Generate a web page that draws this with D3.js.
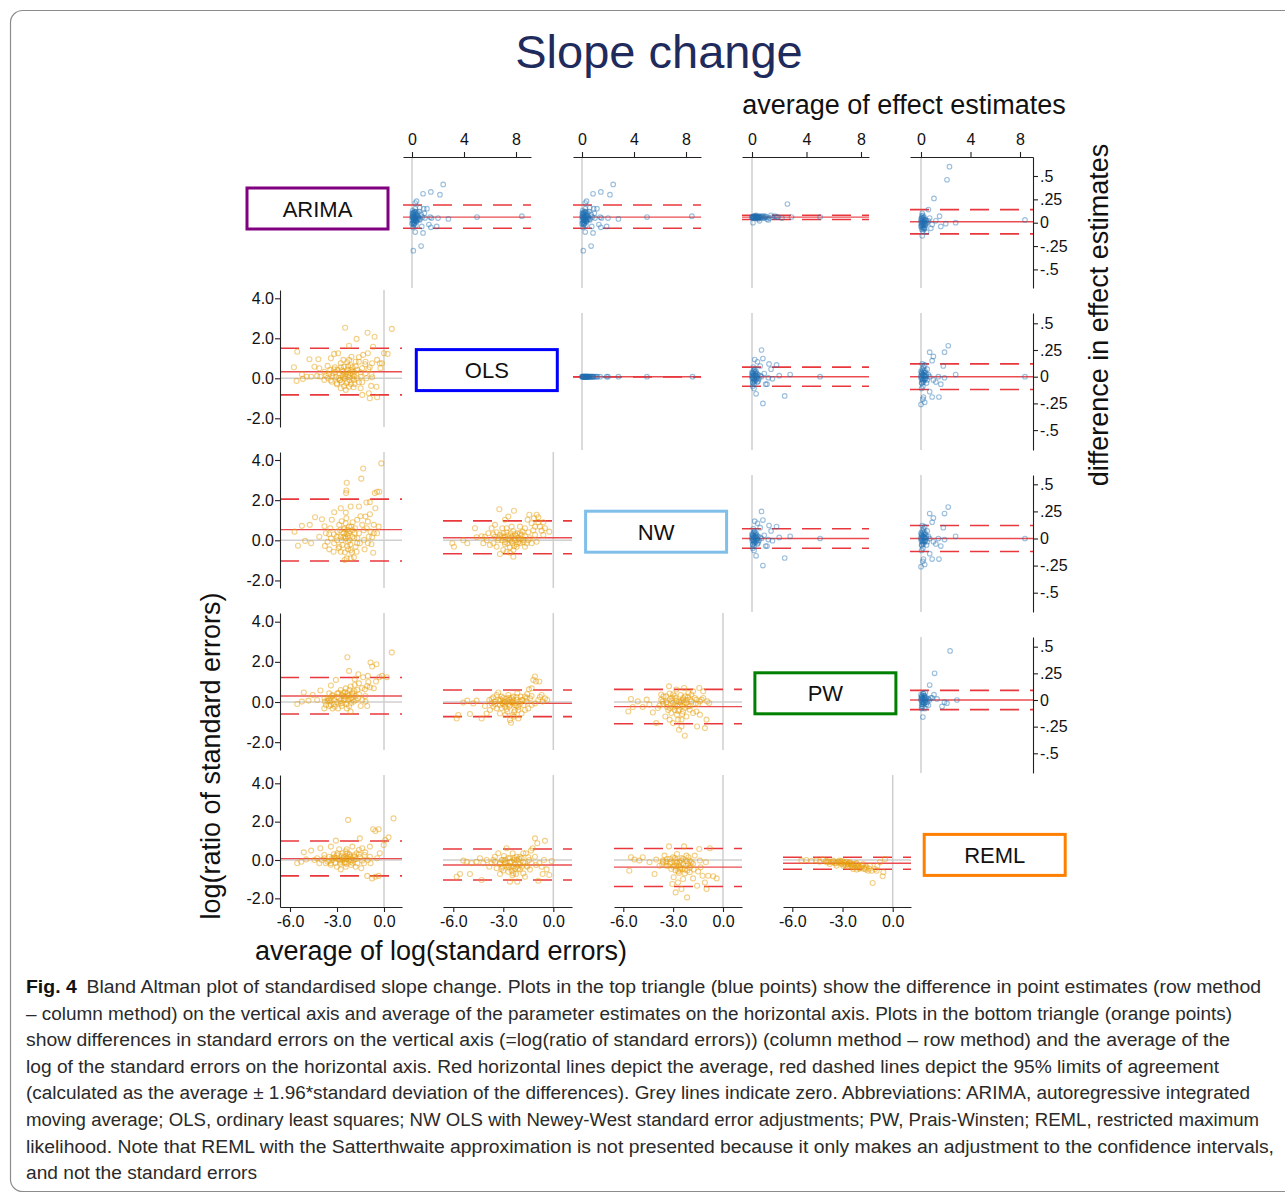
<!DOCTYPE html>
<html>
<head>
<meta charset="utf-8">
<script src="https://cdn.jsdelivr.net/npm/d3@7"></script>
<style>
  body { margin: 0; background: #fff; }
  svg text { font-family: "Liberation Sans", Arial, Helvetica, sans-serif; }
</style>
</head>
<body>
<svg id="chart" width="1285" height="1194"></svg>
<script>
// methods down the diagonal
const methods = ["ARIMA", "OLS", "NW", "PW", "REML"];
const methodColours = ["#800080", "#0000ff", "#80bfea", "#008000", "#ff8000"];

// tick values / labels
const effectTicks = [0, 4, 8];
const diffTicks = [0.5, 0.25, 0, -0.25, -0.5];
const diffTickLabels = [".5", ".25", "0", "-.25", "-.5"];
const logSeTicks = [-6, -3, 0];
const logRatioTicks = [4, 2, 0, -2];

// ---- upper triangle: [average of effect estimates, difference in effect estimates]
const ptsArimaOls = [
  [0.05,0.08],[0.1,0.05],[0.15,0.02],[0.2,0.06],[0.1,0.1],[0.25,0.03],[0.3,0.07],[0.05,0.0],[0.15,-0.02],[0.35,0.04],
  [0.4,0.08],[0.2,0.12],[0.5,0.06],[0.6,0.03],[0.1,0.04],[0.2,0.0],[0.3,-0.03],[0.45,0.1],[0.05,0.13],[0.25,0.15],
  [0.7,0.09],[0.55,0.12],[0.15,0.07],[0.35,0.01],[0.0,0.06],[0.08,-0.05],[0.6,0.16],[0.8,0.06],[0.95,0.1],[1.0,0.05],
  [0.02,0.03],[0.08,0.09],[0.12,0.01],[0.18,0.04],[0.22,0.09],[0.28,0.05],[0.32,0.02],[0.38,0.06],[0.42,0.03],[0.12,0.11],
  [0.18,-0.01],[0.02,0.1],[0.26,0.11],[0.48,0.04],[0.06,0.06],[0.14,0.05],[0.22,0.02],[0.34,0.09],[0.1,-0.02],[0.3,0.12],
  [2.4,0.41],[1.45,0.33],[0.85,0.31],[2.15,0.3],[0.25,0.21],[0.35,0.23],[1.15,0.15],[0.9,0.15],[8.45,0.07],[5.0,0.06],
  [2.8,0.04],[2.0,0.05],[1.4,0.06],[1.5,0.05],[0.6,0.04],[1.3,-0.02],[1.9,-0.04],[0.75,-0.04],[1.45,-0.05],[0.0,-0.01],
  [0.25,-0.1],[0.85,-0.11],[0.7,-0.25],[0.1,-0.3]
];
const ptsArimaPw = [
  [0.0,0.06],[0.05,0.05],[0.1,0.07],[0.15,0.06],[0.2,0.05],[0.25,0.07],[0.3,0.06],[0.35,0.05],[0.4,0.06],[0.5,0.07],
  [0.6,0.05],[0.7,0.06],[0.8,0.07],[0.9,0.05],[1.0,0.06],[1.1,0.06],[1.3,0.05],[1.5,0.06],[1.7,0.07],[1.9,0.06],
  [2.2,0.05],[0.07,0.0],[0.55,0.02],[1.1,0.04],[1.8,0.06],[2.6,0.2],[2.9,0.06],[5.0,0.06],[1.4,0.08],[0.3,0.08],
  [0.45,0.04],[1.2,0.03],[0.02,0.06],[0.08,0.06],[0.12,0.05],[0.18,0.07],[0.22,0.06],[0.28,0.05],[0.32,0.07],[0.38,0.06],
  [0.42,0.05],[0.48,0.06],[0.55,0.06],[0.65,0.07],[0.75,0.05],[0.85,0.06],[0.95,0.07]
];
const ptsArimaReml = [
  [0.0,0.02],[0.05,-0.02],[0.1,0.0],[0.15,0.03],[0.2,-0.03],[0.05,0.05],[0.1,-0.05],[0.25,0.01],[0.3,-0.02],[0.15,0.08],
  [0.05,-0.07],[0.2,0.05],[0.35,0.03],[0.4,-0.01],[0.1,0.1],[0.5,0.0],[0.3,-0.06],[0.0,-0.04],[0.6,0.02],[0.15,-0.09],
  [0.25,0.06],[0.02,0.0],[0.08,0.02],[0.12,-0.02],[0.18,0.01],[0.22,-0.01],[0.28,0.03],[0.04,-0.03],[0.14,0.05],[0.24,-0.05],
  [0.32,0.0],[0.06,0.07],[0.16,-0.06],[0.36,-0.03],[0.44,0.02],[0.02,0.04],
  [2.3,0.6],[2.1,0.46],[1.05,0.26],[0.6,0.14],[8.4,0.03],[2.8,0.0],[1.5,0.07],[1.2,0.02],[0.9,-0.02],
  [1.6,-0.04],[2.0,-0.01],[0.45,-0.1],[0.1,-0.14],[0.25,-0.07],[0.8,-0.06],[0.7,0.05]
];
const ptsOlsNw = [
  [0.0,0],[0.05,0],[0.1,0],[0.15,0],[0.2,0],[0.25,0],[0.3,0],[0.35,0],[0.4,0],[0.45,0],[0.5,0],[0.55,0],[0.6,0],
  [0.65,0],[0.7,0],[0.8,0],[0.9,0],[1.0,0],[1.1,0],[1.4,0],[1.9,0],[2.0,0],[2.8,0],[5.0,0],[8.5,0],
  [0.02,0],[0.08,0],[0.12,0],[0.18,0],[0.22,0],[0.28,0],[0.32,0],[0.38,0],[0.42,0],[0.48,0],[0.75,0],[0.85,0],[1.2,0]
];
const ptsOlsPw = [
  [0.0,0.0],[0.05,0.03],[0.1,-0.02],[0.15,0.01],[0.2,-0.04],[0.05,-0.05],[0.1,0.05],[0.25,0.02],[0.3,-0.01],[0.0,0.04],
  [0.15,-0.07],[0.35,0.03],[0.4,0.0],[0.2,0.07],[0.5,-0.02],[0.6,0.01],[0.1,0.09],[0.05,-0.09],[0.3,0.05],[0.45,-0.04],
  [0.7,0.0],[0.02,0.01],[0.08,-0.01],[0.12,0.02],[0.18,-0.02],[0.22,0.01],[0.28,-0.03],[0.04,0.03],[0.14,-0.04],[0.24,0.04],
  [0.32,0.01],[0.06,-0.06],[0.16,0.06],[0.36,-0.02],[0.44,0.02],[0.02,-0.02],
  [0.7,0.25],[0.2,0.16],[0.8,0.17],[1.25,0.12],[1.8,0.11],[1.4,0.07],[2.8,0.02],[5.0,0.0],[2.0,0.01],
  [2.4,-0.18],[0.8,-0.25],[0.3,-0.16],[0.15,-0.11],[1.0,-0.07],[1.1,-0.07],[0.4,-0.05],[1.5,-0.02],[0.4,0.14],[0.6,0.1],
  [0.9,0.03],[1.2,-0.01]
];
const ptsOlsReml = [
  [0.0,0.0],[0.05,0.04],[0.1,-0.03],[0.15,0.02],[0.2,-0.05],[0.05,-0.06],[0.1,0.07],[0.25,0.01],[0.3,-0.02],[0.0,0.05],
  [0.15,-0.09],[0.35,0.04],[0.4,0.0],[0.2,0.09],[0.5,-0.03],[0.6,0.02],[0.1,0.12],[0.05,-0.11],[0.3,0.06],[0.45,-0.06],
  [0.7,0.0],[0.02,0.01],[0.08,-0.01],[0.12,0.02],[0.18,-0.02],[0.22,0.01],[0.28,-0.03],[0.04,0.03],[0.14,-0.04],[0.24,0.04],
  [0.32,0.01],[0.06,-0.06],[0.16,0.06],[0.36,-0.02],[0.44,0.02],[0.02,-0.02],
  [2.2,0.29],[1.9,0.23],[0.7,0.23],[1.0,0.19],[0.9,0.15],[0.3,0.11],[1.8,0.1],[2.8,0.02],[8.4,0.0],
  [1.4,0.0],[1.9,-0.01],[1.0,-0.03],[1.6,-0.07],[0.7,-0.14],[1.45,-0.19],[0.9,-0.19],[0.2,-0.19],[0.15,-0.21],[0.0,-0.26],
  [0.3,-0.24],[1.2,-0.05],[0.5,0.07]
];
const ptsPwReml = [
  [0.0,0.0],[0.05,0.03],[0.1,-0.02],[0.15,0.01],[0.2,-0.03],[0.05,-0.04],[0.1,0.04],[0.25,0.02],[0.3,-0.01],[0.0,0.05],
  [0.15,-0.06],[0.35,0.02],[0.4,0.0],[0.2,0.06],[0.5,-0.02],[0.6,0.01],[0.05,-0.08],[0.3,0.04],[0.45,-0.04],[0.7,0.0],
  [0.8,0.02],[0.02,0.01],[0.08,-0.01],[0.12,0.02],[0.18,-0.02],[0.22,0.01],[0.28,-0.03],[0.04,0.03],[0.14,-0.04],[0.24,0.04],
  [0.32,0.01],[0.06,-0.06],[0.16,0.06],[0.36,-0.02],[0.44,0.02],
  [2.35,0.46],[1.1,0.25],[0.7,0.14],[1.05,0.05],[1.3,0.01],[1.9,-0.02],[2.1,-0.03],[2.9,0.0],[1.7,-0.06],
  [0.15,-0.16],[0.3,-0.08],[0.35,0.07],[0.9,0.02],[0.6,-0.05]
];

// row method, column method; NW point estimates equal OLS ones
const upperPairs = [["ARIMA","OLS"],["ARIMA","NW"],["ARIMA","PW"],["ARIMA","REML"],["OLS","NW"],
                    ["OLS","PW"],["OLS","REML"],["NW","PW"],["NW","REML"],["PW","REML"]];
const upperPoints = [ptsArimaOls, ptsArimaOls, ptsArimaPw, ptsArimaReml, ptsOlsNw,
                     ptsOlsPw, ptsOlsReml, ptsOlsPw, ptsOlsReml, ptsPwReml];
const upperMean  = [0.06, 0.06, 0.06, 0.01, 0, 0, 0, 0, 0, 0];
const upperLower = [-0.06, -0.06, 0.035, -0.12, 0, -0.09, -0.12, -0.09, -0.12, -0.09];
const upperUpper = [0.19, 0.19, 0.08, 0.14, 0, 0.09, 0.12, 0.09, 0.12, 0.09];

// ---- lower triangle: [average of log(SE), log(ratio of SE)]
const ptsOlsArima = [
  [-2.48,2.53],[0.5,2.47],[-1.05,2.28],[-0.6,2.08],[-1.75,1.97],[-2.23,1.63],[-0.7,1.58],[-5.54,1.33],[0,1.25],[0.23,1.22],
  [-4.76,0.95],[-4.19,0.95],[-5.75,0.55],[-5.58,-0.13],[-5.18,-0.03],[-0.44,0.92],[-1.18,0.83],[-1.6,0.83],[-0.27,0.75],[-2.93,1.25],
  [-3.18,1.22],[-3.39,1.0],[-3.6,0.62],[-4.13,0.5],[-4.44,0.58],[-4.65,0.08],[-4.06,0.08],[-3.81,-0.08],[-3.33,-0.17],[-3.01,-0.25],
  [-2.76,-0.5],[-2.44,-0.58],[-2.23,-0.42],[-1.49,-0.5],[-1.39,-0.83],[-0.97,-0.75],[-0.91,-1.0],[-0.44,-0.95],[-0.48,-0.42],[-0.82,-0.38],
  [-1.39,-0.2],[-1.87,-0.28],[-2.13,0.25],[-2.34,0.42],[-2.55,0.58],[-2.76,0.75],[-1.81,0.83],[-1.71,0.42],[-2.02,0.55],[-2.29,0.17],
  [-2.51,0],[-2.65,0.17],[-2.86,0.25],[-3.07,0.05],[-3.28,0.25],[-3.43,0.42],[-3.14,0.55],[-2.97,0.42],[-2.59,0.92],[-2.23,0.92],
  [-2.08,1.08],[-1.6,1.05],[-1.33,1.17],[-1.03,1.25],[-0.76,0.75],[-0.91,0.55],[-1.18,0.25],[-1.12,0],[-1.49,0.08],[-0.76,0.05],
  [-0.23,0.5],[-0.13,0.75],[-4.93,0.08],[-5.24,0.2],[-3.81,0.33],[-2.02,0],[-1.92,-0.08],[-2.34,-0.17],[-2.82,-0.08],[-3.6,0.03],
  [-4.27,0.12],[-2.4,0.3],[-2.2,0.05],[-2.6,0.35],[-2.0,0.2],[-2.45,0.1],[-1.9,0.3],[-2.7,-0.2],[-2.1,-0.3],[-3.5,0.2],
  [-3.3,0.1],[-3.1,0.3],[-2.9,0.0],[-2.7,0.4],[-2.5,0.2],[-2.3,0.6],[-2.1,0.4],[-1.9,0.1],[-1.7,0.0],[-1.5,0.3],
  [-3.0,-0.3],[-2.8,-0.1],[-2.6,0.05],[-2.4,-0.25],[-2.2,-0.1],[-2.0,0.35],[-1.8,0.6],[-1.6,-0.2],[-3.4,-0.1],[-3.2,0.45],
  [-2.35,0.8],[-2.15,0.65],[-2.55,-0.4],[-1.95,-0.45],[-2.75,0.55],[-1.4,0.5],[-1.2,0.7],[-1.0,0.45],[-0.8,0.2],[-3.7,0.15]
];
const ptsNwArima = [
  [-0.17,3.83],[-1.33,3.58],[-1.45,3.07],[-2.38,2.87],[-2.4,2.48],[-2.42,2.35],[-0.44,2.42],[-0.3,2.42],[-0.59,2.35],[-0.91,1.9],
  [-1.12,1.88],[-0.55,1.6],[-1.6,1.68],[-2.13,1.68],[-2.76,1.6],[-2.44,1.38],[-3.18,1.4],[-3.33,1.02],[-3.96,1.05],[-4.4,1.15],
  [-4.74,0.77],[-5.24,0.72],[-5.71,0.43],[-5.49,-0.27],[-5.03,-0.03],[-4.65,-0.15],[-4.13,0.18],[-3.71,0.35],[-3.43,0.6],[-3.01,0.18],
  [-2.86,0.77],[-2.55,0.55],[-2.23,0.35],[-2.08,0.68],[-1.87,0.35],[-1.71,1.02],[-1.39,0.77],[-1.18,1.18],[-1.03,0.93],[-0.86,0.43],
  [-0.65,0.35],[-1.03,-0.15],[-1.24,-0.45],[-1.54,-0.15],[-1.81,-0.32],[-2.13,-0.48],[-2.38,-0.9],[-2.51,-0.98],[-2.13,-0.9],[-1.92,-0.85],
  [-1.75,-0.57],[-0.69,-0.62],[-3.49,-0.45],[-3.77,-0.28],[-3.18,-0.15],[-2.86,-0.32],[-2.65,-0.23],[-3.39,0.1],[-3.6,-0.07],[-2.44,0.1],
  [-2.29,-0.07],[-2.76,0.18],[-2.02,0.18],[-2.38,0.32],[-2.59,0.35],[-2.34,0.52],[-2.23,0.68],[-2.97,0.43],[-1.6,0.35],[-1.28,0.02],
  [-0.97,0.18],[-0.76,0.15],[-0.44,0.35],[-0.34,0.68],[-0.65,0.77],[-1.71,-0.15],[-2.76,-0.57],[-3.22,-0.57],[-2.5,0.2],[-2.2,0.0],
  [-2.0,0.5],[-1.9,0.1],[-2.7,0.0],[-2.35,-0.3],
  [-3.2,0.3],[-3.0,0.0],[-2.8,0.5],[-2.6,0.15],[-2.45,0.85],[-2.3,0.2],[-2.15,-0.2],[-2.0,0.9],[-1.85,0.6],[-1.7,0.1],
  [-1.5,1.2],[-1.3,0.5],[-2.9,-0.4],[-2.5,-0.6],[-2.2,0.45],[-2.05,-0.6],[-2.7,0.95],[-3.5,0.3],[-3.8,0.7],[-1.1,0.6],
  [-0.9,1.3],[-0.8,-0.2],[-2.4,1.1],[-2.55,0.6],[-2.3,-0.45]
];
const ptsNwOls = [
  [-6.06,-0.15],[-5.96,-0.32],[-5.4,0],[-5.16,-0.15],[-4.7,0.6],[-4.6,0.15],[-4.2,-0.15],[-4.1,0.18],[-3.9,0.35],[-3.7,0.6],
  [-3.5,0.77],[-3.24,1.55],[-3.06,0.6],[-2.9,1.02],[-2.8,0.6],[-2.7,1.18],[-2.5,0.68],[-2.36,1.47],[-2.16,0.35],[-2.0,0.68],
  [-1.84,0.43],[-1.7,0.6],[-1.54,1.02],[-1.44,1.27],[-1.3,0.85],[-1.16,1.1],[-1.0,1.27],[-0.9,1.15],[-0.8,0.68],[-0.7,0.48],
  [-0.5,0.6],[-0.24,0.43],[-0.6,0.27],[-1.1,0.27],[-1.4,0.1],[-1.6,-0.15],[-1.8,0],[-2.0,-0.15],[-2.2,-0.32],[-2.4,-0.48],
  [-2.6,-0.62],[-2.8,-0.57],[-3.0,-0.48],[-3.2,-0.68],[-3.4,-0.32],[-3.6,-0.15],[-3.8,-0.23],[-4.0,0],[-3.3,0.1],[-3.1,0.0],
  [-2.9,0.18],[-2.7,0.05],[-2.5,0.18],[-2.3,0],[-2.1,0.1],[-1.9,0.27],[-2.56,0.35],[-2.76,-0.15],[-2.44,-0.15],[-2.24,0.22],
  [-3.0,0.35],[-3.2,0.27],[-3.5,0.18],[-1.7,-0.32],[-1.3,-0.15],[-1.0,-0.07],[-2.4,-0.82],[-1.1,0.68],[-2.6,0.0],[-2.35,0.1],
  [-2.9,-0.1],[-2.0,0.05],[-3.4,0.4],[-1.5,0.4],
  [-3.3,0.0],[-3.1,0.2],[-2.9,-0.2],[-2.7,0.25],[-2.5,-0.05],[-2.3,0.3],[-2.1,-0.1],[-1.9,0.05],[-1.7,0.2],[-1.5,0.0],
  [-2.8,0.4],[-2.6,-0.35],[-2.4,0.45],[-2.2,-0.2],[-2.0,0.35],[-1.8,-0.1],[-3.0,0.15],[-2.65,0.1],[-2.35,-0.3],[-1.2,0.5],
  [-0.9,0.9],[-0.6,0.9],[-3.6,0.3],[-4.3,0.2]
];
const ptsPwArima = [
  [0.5,2.47],[-2.34,2.23],[-0.86,1.97],[-0.48,1.88],[-0.76,1.77],[-2.23,1.55],[-1.64,1.38],[-1.33,1.23],[-1.03,1.3],[-0.13,1.3],
  [0.19,1.23],[-0.3,1.23],[-3.07,1.1],[-1.87,1.13],[-1.6,0.93],[-1.07,0.8],[-0.51,1.02],[-0.65,0.68],[-0.9,0.73],[-1.22,0.63],
  [-1.71,0.6],[-2.02,0.47],[-2.34,0.43],[-2.7,0.35],[-2.97,0.43],[-3.39,0.82],[-3.49,0.43],[-4.06,0.57],[-4.55,0.35],[-5.12,0.47],
  [-4.82,0.07],[-5.24,0.02],[-5.54,-0.1],[-4.27,0.1],[-3.77,0.02],[-3.6,0.18],[-3.39,-0.15],[-3.14,-0.23],[-2.93,-0.32],[-2.76,-0.07],
  [-2.55,0.1],[-2.23,-0.2],[-2.13,-0.48],[-2.38,-0.32],[-1.92,0.02],[-1.66,0.18],[-1.39,0.1],[-1.18,0.02],[-1.49,-0.2],[-1.07,-0.2],
  [-2.51,0.27],[-2.86,0.18],[-3.18,0.1],[-2.76,0.6],[-2.44,0.68],[-2.13,0.77],[-1.87,0.85],[-2.1,0.2],[-2.3,0.1],[-2.65,-0.05],
  [-3.0,0.0],[-3.4,0.05],[-3.7,-0.15],[-3.28,-0.32],[-3.81,-0.32],[-2.2,0.35],[-2.0,0.1],[-2.6,0.45],[-1.8,0.3],[-3.5,0.1],
  [-3.3,0.3],
  [-3.6,0.05],[-3.4,0.2],[-3.2,-0.1],[-3.0,0.25],[-2.8,0.05],[-2.6,0.3],[-2.4,-0.1],[-2.2,0.15],[-2.0,0.4],[-1.8,0.1],
  [-3.5,-0.2],[-2.9,0.45],[-2.7,-0.2],[-2.5,0.5],[-2.3,0.3],[-2.1,-0.05],[-1.9,0.55],[-1.6,0.4],[-1.4,0.7],[-1.2,0.3],
  [-3.8,0.2],[-3.3,0.35],[-2.45,0.15],[-2.2,0.6],[-1.0,1.0]
];
const ptsPwOls = [
  [-5.8,-0.82],[-5.7,-0.65],[-5.0,-0.6],[-5.4,-0.03],[-5.16,0.07],[-4.8,-0.07],[-4.6,0.07],[-4.3,-0.82],[-4.1,-0.2],[-3.84,0.1],
  [-3.6,0.23],[-3.4,0.35],[-3.3,0.47],[-3.16,0.13],[-3.04,-0.07],[-2.9,-0.23],[-2.76,-0.48],[-2.6,-0.9],[-2.54,-1.03],[-2.44,-0.65],
  [-2.3,-0.4],[-2.2,-0.2],[-2.0,0.02],[-1.84,0.1],[-1.7,0.27],[-1.56,0.4],[-1.46,0.63],[-1.3,0.68],[-1.2,1.1],[-1.1,1.27],
  [-1.04,1.02],[-0.84,1.02],[-0.7,0.35],[-0.5,0.18],[-0.36,0.1],[-0.64,0.02],[-0.9,0.1],[-1.1,-0.07],[-1.3,-0.15],[-1.5,-0.32],
  [-1.7,-0.4],[-1.9,-0.57],[-2.1,-0.4],[-2.3,-0.15],[-2.44,-0.02],[-2.6,0.1],[-2.8,0.18],[-2.96,0.02],[-3.2,-0.15],[-3.4,-0.32],
  [-3.6,-0.23],[-3.8,-0.4],[-4.0,-0.57],[-3.5,0.02],[-3.7,-0.07],[-3.1,0.27],[-2.7,0.35],[-2.4,0.27],[-2.16,0.43],[-1.96,0.27],
  [-1.8,-0.15],[-1.6,0.02],[-1.4,0.18],[-2.64,-0.23],[-2.88,-0.65],[-2.36,-0.73],[-3.2,-0.57],[-2.1,-0.82],[-2.5,0.0],[-2.2,0.1],
  [-3.0,-0.1],
  [-3.5,-0.1],[-3.3,0.1],[-3.1,-0.3],[-2.9,0.0],[-2.7,-0.1],[-2.5,0.2],[-2.3,-0.05],[-2.1,-0.25],[-1.9,0.1],[-3.2,0.05],
  [-2.8,-0.35],[-2.6,-0.15],[-2.4,0.1],[-2.2,0.25],[-2.0,-0.1],[-3.0,0.2],[-2.65,0.2],[-2.35,-0.5],[-1.6,0.2],[-1.3,0.3],
  [-0.8,0.25],[-3.7,0.15],[-2.75,0.05]
];
const ptsPwNw = [
  [-5.7,-0.47],[-5.54,0.15],[-5.43,-0.25],[-5.13,0.03],[-4.83,-0.25],[-4.59,0.12],[-4.43,-0.13],[-4.22,-0.52],[-4.02,-1.05],[-3.92,-0.3],
  [-3.72,0.12],[-3.58,0.28],[-3.41,-0.05],[-3.25,0.78],[-3.21,0.42],[-3.11,-0.55],[-3.05,0.2],[-2.91,-0.18],[-2.81,0.62],[-2.77,-0.63],
  [-2.65,-0.38],[-2.57,-0.02],[-2.5,-1.22],[-2.4,0.12],[-2.34,0.7],[-2.3,-1.68],[-2.2,-0.72],[-2.1,-0.22],[-2.0,0.12],[-1.9,0.37],
  [-1.8,0.53],[-1.64,-0.08],[-1.56,-1.22],[-1.43,0.7],[-1.39,-0.63],[-1.29,0.12],[-1.19,0.53],[-1.09,-1.3],[-0.99,-0.88],[-0.95,0.03],
  [-0.83,-0.05],[-2.65,0.03],[-3.01,-0.05],[-3.37,-0.25],[-3.62,0.03],[-3.82,-0.18],[-2.85,0.2],[-2.2,-0.05],[-2.0,-0.38],[-1.8,-0.55],
  [-1.6,-0.47],[-2.7,-0.88],[-2.5,-0.88],[-3.01,-1.05],[-3.21,-0.88],[-3.47,-0.72],[-2.65,-1.38],[-2.4,-0.47],[-2.28,0.28],[-2.08,0.45],
  [-1.9,0.03],[-3.41,0.28],[-3.72,0.37],[-3.01,0.37],[-1.6,0.12],[-1.39,0.03],[-1.19,0.2],[-2.9,-0.4],[-2.45,-0.2],[-3.2,-0.3],
  [-3.4,0.0],[-3.2,0.15],[-3.0,-0.25],[-2.8,0.05],[-2.6,-0.15],[-2.4,0.2],[-2.2,0.1],[-2.0,-0.2],[-3.3,-0.4],[-2.9,0.3],
  [-2.7,-0.45],[-2.5,0.05],[-2.3,-0.3],[-2.1,0.25],[-2.55,0.35],[-3.1,0.05],[-2.75,-0.2],[-2.35,0.0],[-1.7,0.2],[-1.5,-0.1],
  [-3.6,-0.1],[-2.45,-0.6]
];
const ptsRemlArima = [
  [0.61,2.17],[-2.29,2.09],[-0.69,1.6],[-0.34,1.6],[-0.55,1.51],[-1.54,1.13],[0.29,1.18],[0.08,1.04],[-0.02,0.78],[-3.07,1.01],
  [-3.39,0.7],[-2.86,0.56],[-4.06,0.61],[-4.65,0.49],[-5.12,0.4],[-5.54,-0.17],[-5.28,-0.09],[-4.97,0.03],[-4.27,0.09],[-3.81,0.26],
  [-3.6,-0.09],[-3.39,-0.17],[-3.18,0.14],[-3.01,-0.35],[-2.76,-0.09],[-2.55,0.17],[-2.34,0.35],[-2.23,0.03],[-2.08,-0.26],[-1.92,0.0],
  [-1.75,0.35],[-1.6,0.52],[-1.39,0.61],[-1.24,0.26],[-1.03,0.0],[-0.86,-0.17],[-1.07,-0.83],[-0.76,-0.96],[-0.55,-0.87],[-0.34,-0.83],
  [-1.45,-0.43],[-1.81,-0.35],[-2.44,-0.35],[-2.76,-0.49],[-3.71,-0.17],[-3.98,0.0],[-3.49,0.17],[-2.97,0.35],[-2.65,0.35],[-2.38,0.56],
  [-2.02,0.7],[-1.87,0.17],[-1.54,0.14],[-1.39,-0.03],[-2.13,-0.09],[-2.51,-0.17],[-2.86,0.0],[-3.28,0.0],[-3.81,0.09],[-4.44,0.0],
  [-4.13,-0.17],[-2.13,0.17],[-1.7,-0.17],[-1.28,-0.17],[-0.9,0.17],[-0.44,0.09],[-0.27,0.35],[-2.4,0.05],[-2.6,0.1],[-2.2,0.25],
  [-3.1,0.1],
  [-3.5,-0.05],[-3.3,0.1],[-3.1,-0.15],[-2.9,0.05],[-2.7,0.2],[-2.5,-0.1],[-2.3,0.15],[-2.1,0.0],[-1.9,0.25],[-3.4,-0.25],
  [-3.0,0.25],[-2.8,-0.2],[-2.6,0.05],[-2.4,-0.2],[-2.2,0.3],[-2.0,-0.15],[-1.8,0.05],[-2.45,0.45],[-3.2,0.3],[-1.6,0.3],
  [-1.2,0.4],[-0.9,0.7],[-2.65,0.0]
];
const ptsRemlOls = [
  [-5.8,-0.87],[-5.6,-0.73],[-5.4,-0.03],[-5.2,-0.09],[-4.9,-0.17],[-4.6,-0.09],[-4.4,0.09],[-4.2,-0.17],[-4.0,0.0],[-5.0,-0.73],
  [-4.3,-1.04],[-3.84,-0.35],[-3.7,-0.17],[-3.5,0.17],[-3.3,0.35],[-3.2,-0.17],[-3.04,-0.35],[-2.9,0.0],[-2.8,0.61],[-2.7,-0.61],
  [-2.6,-1.13],[-2.5,-0.35],[-2.44,0.35],[-2.36,0.0],[-2.24,-0.73],[-2.16,-1.13],[-2.1,-0.17],[-2.0,0.17],[-1.9,-0.35],[-1.8,-0.7],
  [-1.7,-0.17],[-1.64,0.35],[-1.56,-0.35],[-1.44,0.0],[-1.34,0.49],[-1.24,0.61],[-1.1,1.13],[-0.96,0.87],[-0.84,-0.17],[-0.7,-0.35],
  [-0.56,0.0],[-0.5,1.0],[-0.4,-0.49],[-0.24,-0.78],[-0.1,-0.05],[-0.64,-0.73],[-0.9,-1.08],[-2.4,-0.7],[-3.2,-0.73],[-3.4,-0.43],
  [-2.96,0.21],[-2.6,0.09],[-2.2,0.17],[-1.8,0.35],[-1.5,0.14],[-2.0,-0.49],[-1.7,-0.87],[-2.2,-0.35],[-2.5,-0.09],[-2.84,-0.17],
  [-3.1,0.0],[-3.6,0.0],[-1.3,-0.17],[-1.04,-0.26],[-1.1,0.17],[-2.7,-0.3],[-2.3,-0.45],[-3.0,-0.55],
  [-3.2,-0.2],[-3.0,0.0],[-2.8,-0.3],[-2.6,-0.1],[-2.4,-0.35],[-2.2,0.0],[-2.0,-0.25],[-1.8,-0.1],[-3.1,-0.45],[-2.9,-0.15],
  [-2.7,0.1],[-2.5,-0.55],[-2.3,-0.2],[-2.1,-0.45],[-1.9,0.1],[-2.65,-0.4],[-2.35,0.1],[-2.05,0.05],[-1.6,-0.3],[-1.4,-0.5],
  [-3.5,-0.1],[-2.45,-0.8]
];
const ptsRemlNw = [
  [-5.64,-0.56],[-5.54,0.14],[-5.33,0.02],[-5.03,-0.03],[-4.83,0.14],[-4.42,-0.12],[-4.12,-0.73],[-4.02,0.02],[-3.82,-0.3],[-3.62,-0.03],
  [-3.52,0.23],[-3.25,0.71],[-3.17,-0.12],[-3.05,-1.25],[-2.91,-0.3],[-2.85,-1.69],[-2.77,0.31],[-2.65,-0.68],[-2.5,-0.03],[-2.4,-0.99],
  [-2.34,0.71],[-2.24,-0.3],[-2.16,-1.95],[-2.08,0.14],[-2.0,-0.64],[-1.9,-0.12],[-1.8,-0.96],[-1.7,0.23],[-1.56,-1.34],[-1.43,0.57],
  [-1.35,-0.38],[-1.23,-0.82],[-1.09,-1.17],[-0.99,-1.51],[-0.89,-0.82],[-0.79,0.61],[-0.59,-0.85],[-0.38,-0.96],[-1.03,-0.12],[-1.39,-0.03],
  [-2.61,-0.12],[-2.81,-0.3],[-3.11,-0.47],[-3.41,-0.3],[-3.66,-0.21],[-3.01,0.14],[-2.77,-0.12],[-2.4,0.05],[-2.2,0.23],[-2.0,-0.03],
  [-2.71,-1.17],[-2.5,-1.51],[-2.97,-0.9],[-1.76,-0.5],[-3.37,0.05],[-2.3,-0.5],[-2.55,-0.4],[-1.95,-0.3],[-2.85,0.0],[-3.2,-0.2],
  [-3.4,-0.1],[-3.2,0.05],[-3.0,-0.35],[-2.8,-0.15],[-2.6,-0.5],[-2.4,-0.2],[-2.2,-0.05],[-2.0,-0.4],[-3.3,-0.3],[-2.9,0.1],
  [-2.7,-0.6],[-2.5,0.1],[-2.3,-0.7],[-2.1,-0.2],[-2.65,-0.3],[-2.45,-0.45],[-2.15,-0.55],[-1.8,-0.2],[-1.5,-0.6],[-3.6,-0.1],
  [-2.85,-0.55]
];
const ptsRemlPw = [
  [-5.46,-0.03],[-5.16,0.0],[-4.86,-0.05],[-4.36,-0.09],[-4.16,0.02],[-3.86,-0.07],[-3.66,-0.12],[-3.46,-0.16],[-3.26,-0.12],[-3.06,-0.21],
  [-2.86,-0.17],[-2.66,-0.24],[-2.46,-0.3],[-2.36,-0.21],[-2.26,-0.38],[-2.06,-0.3],[-1.96,-0.43],[-1.86,-0.3],[-1.72,-0.47],[-1.56,-0.38],
  [-1.46,-0.56],[-1.36,-0.3],[-1.2,-1.2],[-1.06,-0.47],[-0.92,-0.3],[-0.76,-0.12],[-0.6,-0.85],[-0.56,-0.64],[-0.46,0.05],[-3.76,-0.21],
  [-3.36,-0.3],[-2.96,-0.3],[-2.56,-0.12],[-2.16,-0.16],[-1.76,-0.21],[-3.96,-0.12],[-3.56,-0.03],[-3.16,-0.03],[-2.76,-0.09],[-4.56,-0.02],
  [-0.96,-0.56],[-1.26,-0.56],[-2.16,-0.5],[-2.36,-0.47],[-2.9,-0.25],[-3.1,-0.1],[-2.5,-0.2],[-2.7,-0.35],
  [-3.5,-0.1],[-3.3,-0.08],[-3.1,-0.15],[-2.9,-0.12],[-2.7,-0.2],[-2.5,-0.25],[-2.3,-0.28],[-2.1,-0.35],[-1.9,-0.38],[-1.7,-0.4],
  [-3.4,-0.18],[-3.0,-0.05],[-2.6,-0.15],[-2.2,-0.2],[-1.8,-0.3],[-2.8,-0.28],[-2.4,-0.38],[-2.0,-0.45],[-1.6,-0.5],[-4.0,-0.05],
  [-3.8,-0.1],[-1.4,-0.45]
];

const lowerPairs = [["OLS","ARIMA"],["NW","ARIMA"],["NW","OLS"],["PW","ARIMA"],["PW","OLS"],
                    ["PW","NW"],["REML","ARIMA"],["REML","OLS"],["REML","NW"],["REML","PW"]];
const lowerPoints = [ptsOlsArima, ptsNwArima, ptsNwOls, ptsPwArima, ptsPwOls,
                     ptsPwNw, ptsRemlArima, ptsRemlOls, ptsRemlNw, ptsRemlPw];
const lowerMean  = [0.33, 0.53, 0.13, 0.3, -0.07, -0.23, 0.07, -0.26, -0.37, -0.17];
const lowerLower = [-0.83, -1.03, -0.67, -0.6, -0.73, -1.08, -0.83, -1.04, -1.38, -0.48];
const lowerUpper = [1.5, 2.05, 0.97, 1.22, 0.6, 0.63, 0.99, 0.57, 0.6, 0.14];

const captionLines = [
  "Bland Altman plot of standardised slope change. Plots in the top triangle (blue points) show the difference in point estimates (row method",
  "\u2013 column method) on the vertical axis and average of the parameter estimates on the horizontal axis. Plots in the bottom triangle (orange points)",
  "show differences in standard errors on the vertical axis (=log(ratio of standard errors)) (column method \u2013 row method) and the average of the",
  "log of the standard errors on the horizontal axis. Red horizontal lines depict the average, red dashed lines depict the 95% limits of agreement",
  "(calculated as the average \u00b1 1.96*standard deviation of the differences). Grey lines indicate zero. Abbreviations: ARIMA, autoregressive integrated",
  "moving average; OLS, ordinary least squares; NW OLS with Newey-West standard error adjustments; PW, Prais-Winsten; REML, restricted maximum",
  "likelihood. Note that REML with the Satterthwaite approximation is not presented because it only makes an adjustment to the confidence intervals,",
  "and not the standard errors"
];
const captionEnds = [1261, 1232, 1230, 1219, 1250, 1259, 1274, 257];

// ---- layout of the matrix cells (pixels), measured off the figure
// blue columns: left edge, x of 0, x of 8, right edge
const blueCols = [null, [403,412,516,531], [573,582,686,701], [742,752,861,869], [910,921,1020,1033]];
// blue rows: top, y of .5, y of 0, bottom
const blueRows = [[157,176,222.7,288], [313,323.3,376.7,450], [475,484.3,538.5,612], [637,646.7,700,773]];
// orange columns: left edge, x of -6, x of 0, right edge
const orangeCols = [[280,290,384,402], [443,453.3,553.3,572], [614,623.3,723,742], [783,792.3,892.7,911]];
// orange rows: top, y of 4, y of 0, bottom
const orangeRows = [null, [290,298.3,378.3,427], [452,460,540.3,588], [613,621.7,702,750], [775,783.3,860,907]];

const RED = "#e8383d", GREY = "#cfcfcf";
const BLUE_PT = "#1f6fb2", ORANGE_PT = "#e8a00c";

const svg = d3.select("#chart");

// frame
svg.append("rect").attr("x", 10.5).attr("y", 10.5).attr("width", 1320).attr("height", 1181)
  .attr("rx", 12).attr("fill", "none").attr("stroke", "#8c8c8c").attr("stroke-width", 1.2);

// scale passing through two reference values, then stretched out to the panel edges
function fitScale(a, b, pa, pb, lo, hi) {
  const s = d3.scaleLinear().domain([a, b]).range([pa, pb]);
  return d3.scaleLinear().domain([s.invert(lo), s.invert(hi)]).range([lo, hi]);
}

function blueScales(r, c) {
  const bc = blueCols[c], br = blueRows[r];
  return [fitScale(0, 8, bc[1], bc[2], bc[0], bc[3]), fitScale(0.5, 0, br[1], br[2], br[3], br[0])];
}
function orangeScales(r, c) {
  const oc = orangeCols[c], or = orangeRows[r];
  return [fitScale(-6, 0, oc[1], oc[2], oc[0], oc[3]), fitScale(4, 0, or[1], or[2], or[3], or[0])];
}

function drawPanel(pts, mean, lo, hi, xs, ys, colour, opacity, radius, hZero) {
  const g = svg.append("g");
  const [xa, xb] = xs.range(), [ya, yb] = ys.range();
  g.append("line").attr("x1", xs(0)).attr("x2", xs(0)).attr("y1", ya).attr("y2", yb)
    .attr("stroke", GREY).attr("stroke-width", 1.5);
  if (hZero) {
    g.append("line").attr("x1", xa).attr("x2", xb).attr("y1", ys(0)).attr("y2", ys(0))
      .attr("stroke", GREY).attr("stroke-width", 1.5);
  }
  [lo, hi].forEach(v => {
    g.append("line").attr("x1", xa).attr("x2", xb).attr("y1", ys(v)).attr("y2", ys(v))
      .attr("stroke", RED).attr("stroke-width", 1.6).attr("stroke-dasharray", "19,11");
  });
  g.append("line").attr("x1", xa).attr("x2", xb).attr("y1", ys(mean)).attr("y2", ys(mean))
    .attr("stroke", RED).attr("stroke-width", 1.4).attr("stroke-opacity", 0.9);
  g.selectAll("circle").data(pts).join("circle")
    .attr("cx", d => xs(d[0])).attr("cy", d => ys(d[1])).attr("r", radius)
    .attr("fill", "none").attr("stroke", colour).attr("stroke-width", 1.1)
    .attr("stroke-opacity", opacity);
}

upperPairs.forEach((p, i) => {
  const r = methods.indexOf(p[0]), c = methods.indexOf(p[1]);
  const [xs, ys] = blueScales(r, c);
  drawPanel(upperPoints[i], upperMean[i], upperLower[i], upperUpper[i], xs, ys, BLUE_PT, 0.45, 2.3, false);
});
lowerPairs.forEach((p, i) => {
  const r = methods.indexOf(p[0]), c = methods.indexOf(p[1]);
  const [xs, ys] = orangeScales(r, c);
  drawPanel(lowerPoints[i], lowerMean[i], lowerLower[i], lowerUpper[i], xs, ys, ORANGE_PT, 0.5, 2.5, true);
});

// axes
const oneDecimal = d => d.toFixed(1);   // plain hyphen for negatives, as in the figure
function styleAxis(g, size) {
  g.attr("font-size", size).attr("font-family", "Liberation Sans, Arial, sans-serif");
  g.selectAll("path, line").attr("stroke", "#222").attr("stroke-width", 1.1);
  g.selectAll("text").attr("fill", "#111");
}
for (let c = 1; c <= 4; c++) {
  const [xs] = blueScales(0, c);
  svg.append("g").attr("transform", `translate(0,${blueRows[0][0]})`)
    .call(d3.axisTop(xs).tickValues(effectTicks).tickFormat(d3.format("d")).tickSize(5).tickSizeOuter(0).tickPadding(7))
    .call(g => styleAxis(g, 16));
}
for (let r = 0; r <= 3; r++) {
  const [, ys] = blueScales(r, 4);
  svg.append("g").attr("transform", `translate(${blueCols[4][3]},0)`)
    .call(d3.axisRight(ys).tickValues(diffTicks).tickFormat((d, i) => diffTickLabels[i]).tickSize(5).tickSizeOuter(0).tickPadding(2))
    .call(g => styleAxis(g, 16));
}
for (let r = 1; r <= 4; r++) {
  const [, ys] = orangeScales(r, 0);
  svg.append("g").attr("transform", `translate(${orangeCols[0][0]},0)`)
    .call(d3.axisLeft(ys).tickValues(logRatioTicks).tickFormat(oneDecimal).tickSize(5).tickSizeOuter(0).tickPadding(1))
    .call(g => styleAxis(g, 16));
}
for (let c = 0; c <= 3; c++) {
  const [xs] = orangeScales(4, c);
  svg.append("g").attr("transform", `translate(0,${orangeRows[4][3]})`)
    .call(d3.axisBottom(xs).tickValues(logSeTicks).tickFormat(oneDecimal).tickSize(5).tickSizeOuter(0).tickPadding(4))
    .call(g => styleAxis(g, 16));
}

// method boxes on the diagonal
methods.forEach((m, i) => {
  const x = 247 + i * 169.3, y = 188 + i * 161.6;
  svg.append("rect").attr("x", x).attr("y", y).attr("width", 141).attr("height", 41)
    .attr("fill", "#fff").attr("stroke", methodColours[i]).attr("stroke-width", 3);
  svg.append("text").attr("x", x + 70.5).attr("y", y + 28.5).attr("text-anchor", "middle")
    .attr("font-size", 22).attr("fill", "#111").text(m);
});

// titles
svg.append("text").attr("x", 659).attr("y", 68).attr("text-anchor", "middle")
  .attr("font-size", 47).attr("fill", "#1f2b5c").text("Slope change");
svg.append("text").attr("x", 904).attr("y", 114).attr("text-anchor", "middle")
  .attr("font-size", 27).attr("fill", "#111").text("average of effect estimates");
svg.append("text").attr("x", 441).attr("y", 960).attr("text-anchor", "middle")
  .attr("font-size", 27).attr("fill", "#111").text("average of log(standard errors)");
svg.append("text").attr("transform", "translate(220,756) rotate(-90)").attr("text-anchor", "middle")
  .attr("font-size", 27).attr("fill", "#111").text("log(ratio of standard errors)");
svg.append("text").attr("transform", "translate(1108,315) rotate(-90)").attr("text-anchor", "middle")
  .attr("font-size", 27).attr("fill", "#111").text("difference in effect estimates");

// caption
const cap = svg.append("g")
  .attr("font-family", "'Open Sans', 'Noto Sans', sans-serif")
  .attr("font-size", 18).attr("fill", "#2a2a2a");
captionLines.forEach((line, i) => {
  const t = cap.append("text").attr("x", 26).attr("y", 993 + i * 26.6)
    .attr("textLength", captionEnds[i] - 26).attr("lengthAdjust", "spacingAndGlyphs");
  if (i === 0) {
    t.append("tspan").attr("font-weight", "bold").attr("fill", "#111").text("Fig. 4");
    t.append("tspan").text("\u2002" + line);
  } else {
    t.text(line);
  }
});
</script>
</body>
</html>
